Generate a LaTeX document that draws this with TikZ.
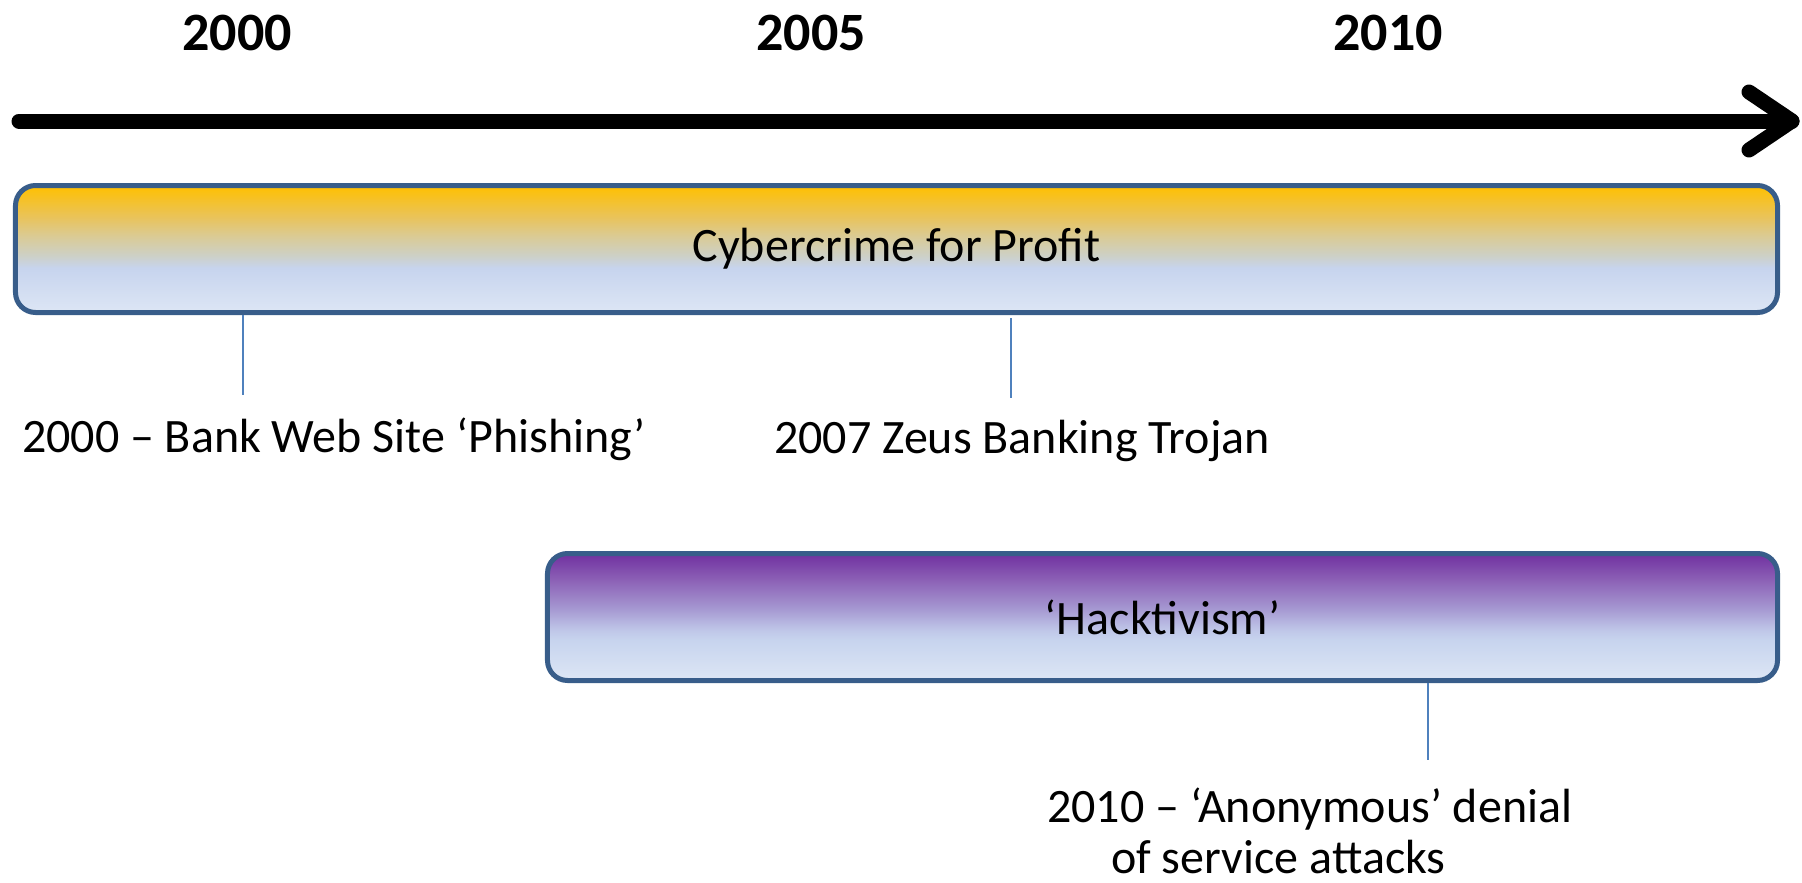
\documentclass[tikz,border=0pt]{standalone}
\usepackage{fontspec}
\setmainfont{Carlito}
\usetikzlibrary{calc}

\definecolor{frameblue}{HTML}{385D8A}
\definecolor{linkblue}{HTML}{4F81BD}
\definecolor{paleblue}{HTML}{DDE6F5}
\definecolor{lightblue}{HTML}{C7D4EE}
\definecolor{greyish}{HTML}{CDD0C6}
\definecolor{beige}{HTML}{DACB95}
\definecolor{goldmid}{HTML}{E9C35B}
\definecolor{gold}{HTML}{FFC000}
\definecolor{lilac}{HTML}{BFC6E8}
\definecolor{violetmid}{HTML}{A597D1}
\definecolor{violetdeep}{HTML}{8B5FB5}
\definecolor{purple}{HTML}{7030A0}

% vertical fills: the path's height maps onto 25bp..75bp
\pgfdeclareverticalshading{profitfill}{100bp}{%
  color(0bp)=(paleblue); color(25bp)=(paleblue);
  color(42.5bp)=(lightblue); color(47.5bp)=(greyish);
  color(55bp)=(beige); color(62.5bp)=(goldmid);
  color(75bp)=(gold); color(100bp)=(gold)}
\pgfdeclareverticalshading{activistfill}{100bp}{%
  color(0bp)=(paleblue); color(25bp)=(paleblue);
  color(41bp)=(lightblue); color(45bp)=(lilac);
  color(53.5bp)=(violetmid); color(65bp)=(violetdeep);
  color(75bp)=(purple); color(100bp)=(purple)}

\tikzset{
  era/.style={draw=frameblue, line width=5bp, rounded corners=20bp,
    minimum height=127bp, inner sep=0pt,
    font=\fontsize{48bp}{56bp}\selectfont},
  yearlabel/.style={font=\fontsize{54bp}{60bp}\selectfont\bfseries, inner sep=0pt},
  eventlabel/.style={font=\fontsize{48bp}{51bp}\selectfont, inner sep=0pt},
  tick/.style={draw=linkblue, line width=2bp},
  axisline/.style={line width=15bp, line cap=round, line join=round}
}

\begin{document}
\begin{tikzpicture}[x=1bp, y=-1bp]
\useasboundingbox (0,0) rectangle (1802,883);

% time axis with an open chevron head
\coordinate (axisstart) at (19,121);
\coordinate (axistip) at (1792,121);
\coordinate (headtop) at (1749,92);
\coordinate (headbot) at (1749,150);
\draw[axisline] (axisstart) -- (axistip);
\draw[axisline] (headtop) -- (axistip) -- (headbot);

% years
\node[yearlabel] (y2000) at (237,33) {2000};
\node[yearlabel] (y2005) at (811,33) {2005};
\node[yearlabel] (y2010) at (1388,33) {2010};

% eras
\node[era, shading=profitfill, minimum width=1762bp] (profit) at (896.5,249)
  {Cybercrime for Profit};
\node[era, shading=activistfill, minimum width=1230bp] (activism) at (1162.5,617)
  {‘Hacktivism’};

% events
\node[eventlabel, anchor=base] (phishing) at (334,452)
  {2000 – Bank Web Site ‘Phishing’};
\node[eventlabel, anchor=base] (zeus) at (1022,453)
  {2007 Zeus Banking Trojan};
% base anchor sits on the second line here
\node[eventlabel, anchor=base west, align=left] (anon) at (1047,873)
  {2010 – ‘Anonymous’ denial\\\hspace*{64bp}of service attacks};

% ticks from eras to events
\coordinate (t1) at (243,395);
\coordinate (t2) at (1011,398);
\coordinate (t3) at (1428,760);
\draw[tick] (t1 |- profit.south) -- (t1);
\draw[tick] ($(t2 |- profit.south)+(0,3)$) -- (t2);
\draw[tick] (t3 |- activism.south) -- (t3);
\end{tikzpicture}
\end{document}
